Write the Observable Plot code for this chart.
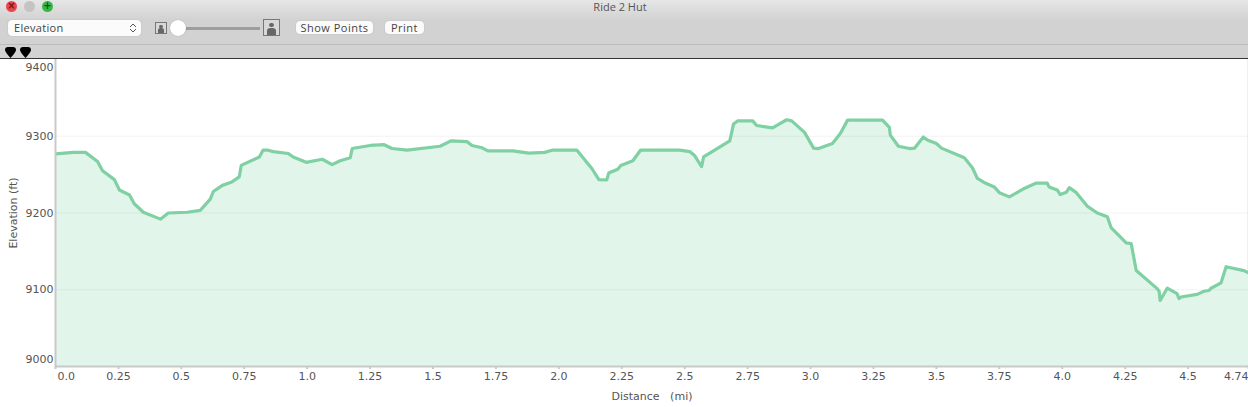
<!DOCTYPE html>
<html>
<head>
<meta charset="utf-8">
<script src="https://cdn.jsdelivr.net/npm/d3@7"></script>
<script src="https://cdn.jsdelivr.net/npm/@observablehq/plot@0.6"></script>
<style>
html,body{margin:0;padding:0;background:#fff;overflow:hidden;width:1248px;height:407px}
#chrome{position:relative;width:1248px;height:59px;background:#d2d2d2;font-family:"Open Sans","Liberation Sans",sans-serif;color:#444;overflow:hidden}
#chrome>*{position:absolute;box-sizing:border-box}
#top{left:0;top:0;width:1248px;height:20px;background:linear-gradient(#e6e6e6,#d2d2d2)}
#title{left:0;width:1240px;top:0;text-align:center;font-size:11px;line-height:14px;color:#555}
.dot{width:11px;height:11px;border-radius:50%;top:1px;font:700 10px/10px "DejaVu Sans",sans-serif;text-align:center;color:#7a1114}
.ctl{background:#fbfbfb;border-radius:4px;box-shadow:0 0 1px #999;font-size:11px;letter-spacing:.5px;line-height:15px;text-align:center;color:#444}
#rule1{left:0;top:44px;width:1248px;height:1px;background:#bcbcbc}
#rule2{left:0;top:58px;width:1248px;height:1px;background:#333}
#track{left:180px;top:27px;width:80px;height:3px;background:#9d9d9d}
#knob{left:170px;top:20px;width:16px;height:16px;border-radius:50%;background:#fff;box-shadow:0 0 1px #888}
.ph{background:#d8d8d8;border:1px solid #777}
.ph i{position:absolute;left:20%;right:20%;bottom:0;height:48%;background:#666;border-radius:40% 40% 0 0}
.ph b{position:absolute;left:33%;right:33%;top:18%;height:32%;background:#666;border-radius:50%}
.pin{top:47px;width:11px;height:11px}
#plot svg{display:block}
</style>
</head>
<body>
<div id="chrome">
  <div id="top"></div>
  <div id="title">Ride 2 Hut</div>
  <div class="dot" style="left:6px;background:#e5484d">×</div>
  <div class="dot" style="left:24px;background:#c4c4c4"></div>
  <div class="dot" style="left:42px;background:#3ab54a;color:#0c5a14">+</div>
  <div class="ctl" style="left:8px;top:20px;width:133px;height:16px;text-align:left;padding-left:6px;border-radius:4px;letter-spacing:.3px">Elevation<svg style="position:absolute;right:4px;top:3px" width="8" height="10" viewBox="0 0 8 10"><path d="M1 4L4 1L7 4M1 6L4 9L7 6" fill="none" stroke="#555" stroke-width="1"/></svg></div>
  <div class="ph" style="left:155px;top:22px;width:12px;height:12px;position:absolute"><b></b><i></i></div>
  <div id="track"></div>
  <div id="knob"></div>
  <div class="ph" style="left:263px;top:19px;width:17px;height:17px;position:absolute"><b></b><i></i></div>
  <div class="ctl" style="left:296px;top:21px;width:77px;height:13px;line-height:13px">Show Points</div>
  <div class="ctl" style="left:385px;top:21px;width:39px;height:13px;line-height:13px">Print</div>
  <div id="rule1"></div>
  <svg class="pin" style="left:5px" viewBox="0 0 11 11"><path d="M0 3Q0 0 3 0L8 0Q11 0 11 3Q11 5 5.500 11Q0 5 0 3Z" fill="#000"/></svg>
  <svg class="pin" style="left:20px" viewBox="0 0 11 11"><path d="M0 3Q0 0 3 0L8 0Q11 0 11 3Q11 5 5.500 11Q0 5 0 3Z" fill="#000"/></svg>
  <div id="rule2"></div>
</div>
<div id="plot"></div>
<script>
const distance = [0,.071,.119,.167,.187,.234,.254,.294,.313,.349,.417,.448,.524,.575,.615,.627,.663,.698,.730,.738,.810,.825,.841,.865,.925,.944,.996,1.060,1.099,1.131,1.171,1.179,1.25,1.306,1.337,1.397,1.528,1.571,1.635,1.655,1.694,1.718,1.817,1.881,1.944,1.976,2.071,2.131,2.159,2.190,2.198,2.234,2.246,2.294,2.325,2.480,2.520,2.540,2.567,2.575,2.679,2.694,2.710,2.770,2.786,2.849,2.905,2.925,2.976,3.012,3.032,3.087,3.119,3.147,3.286,3.313,3.317,3.349,3.393,3.413,3.448,3.464,3.5,3.52,3.611,3.643,3.663,3.694,3.730,3.75,3.790,3.849,3.897,3.940,3.948,3.980,3.992,4.016,4.028,4.056,4.099,4.139,4.179,4.194,4.254,4.274,4.294,4.377,4.385,4.389,4.417,4.456,4.464,4.472,4.536,4.563,4.583,4.591,4.631,4.651,4.722,4.74];
const elevation = [9277,9279,9279,9267,9255,9243.5,9230,9223.5,9212,9201,9192,9200,9201,9203.5,9218,9228,9236,9240,9247,9262,9273,9282,9282,9280,9277.5,9273,9266,9270,9263,9268,9272,9284,9288,9289,9284,9282,9287,9294,9293,9288,9285,9281,9281,9278,9279,9282,9282,9258,9243.5,9243,9252,9257,9262,9268,9282,9282,9280,9274.5,9260.5,9273,9294,9316,9320,9320,9314,9311,9321.5,9320,9305,9284.5,9284,9290.5,9304,9321,9321,9311.5,9301.5,9287,9284,9284.5,9299,9295,9290.5,9284.5,9272,9259,9245,9239,9234,9226.5,9221,9232,9239,9239,9234,9230,9224,9227,9233,9226.5,9209,9200,9195,9181,9161,9160,9125,9101.5,9098,9086,9102,9095,9088.5,9090.5,9094,9098,9099,9102,9109,9130,9125,9122];
const xTicks = [0.25,0.5,0.75,1,1.25,1.5,1.75,2,2.25,2.5,2.75,3,3.25,3.5,3.75,4,4.25,4.5];
const yTicks = [9100,9200,9300];
const xMax = 4.74, yMin = 9000, yMax = 9400;
const rows = distance.map((d,i)=>({d,e:elevation[i]}));
const grey = "#c9c9c9", ink = "#555";
const fmtX = d => Number.isInteger(d) ? d.toFixed(1) : String(d);
const chart = Plot.plot({
  width:1248, height:348,
  marginLeft:55, marginRight:0, marginTop:0, marginBottom:41,
  style:{fontFamily:"'DejaVu Sans',sans-serif",fontSize:"11px",color:ink,background:"#fff"},
  x:{domain:[0,xMax]},
  y:{domain:[yMin,yMax]},
  marks:[
    Plot.ruleX([xMax],{stroke:"#f0f0f0",strokeWidth:1,dx:-1}),
    Plot.areaY(rows,{x:"d",y1:yMin,y2:"e",fill:"#e1f5ea"}),
    Plot.ruleY(yTicks,{stroke:"#000",strokeOpacity:0.05,strokeWidth:1}),
    Plot.lineY(rows,{x:"d",y:"e",stroke:"#7fd0a2",strokeWidth:3.2,strokeLinejoin:"round",clip:true}),
    Plot.ruleX([0],{stroke:grey,strokeWidth:2}),
    Plot.ruleY([yMin],{stroke:grey,strokeWidth:2}),
    Plot.axisX({ticks:[...xTicks,0,xMax],tickFormat:()=>"",tickSize:3,stroke:grey,strokeWidth:2,label:null,anchor:"bottom"}),
    Plot.axisX({ticks:xTicks,tickFormat:fmtX,tickSize:0,tickPadding:6,label:null,anchor:"bottom"}),
    Plot.axisX({ticks:[0],tickFormat:()=>"0.0",tickSize:0,tickPadding:6,textAnchor:"start",dx:2,label:null,anchor:"bottom"}),
    Plot.axisX({ticks:[xMax],tickFormat:()=>"4.74",tickSize:0,tickPadding:6,textAnchor:"end",label:null,anchor:"bottom"}),
    Plot.axisY({ticks:yTicks,tickSize:0,tickPadding:2,tickFormat:d=>String(d),label:null}),
    Plot.axisY({ticks:[yMax],tickSize:0,tickPadding:2,tickFormat:d=>String(d),lineAnchor:"top",dy:4,label:null}),
    Plot.axisY({ticks:[yMin],tickSize:0,tickPadding:2,tickFormat:d=>String(d),lineAnchor:"bottom",dy:-4,label:null}),
    Plot.text(["Distance   (mi)"],{frameAnchor:"bottom",x:2.37,dy:33,lineAnchor:"bottom",fontSize:11,fill:ink,text:d=>d.replace(/ /g,"\u00a0")}),
    Plot.text(["Elevation (ft)"],{frameAnchor:"left",y:9200,dx:-42,rotate:-90,textAnchor:"middle",fontSize:11,fill:ink})
  ]
});
document.getElementById("plot").appendChild(chart);
</script>
</body>
</html>
